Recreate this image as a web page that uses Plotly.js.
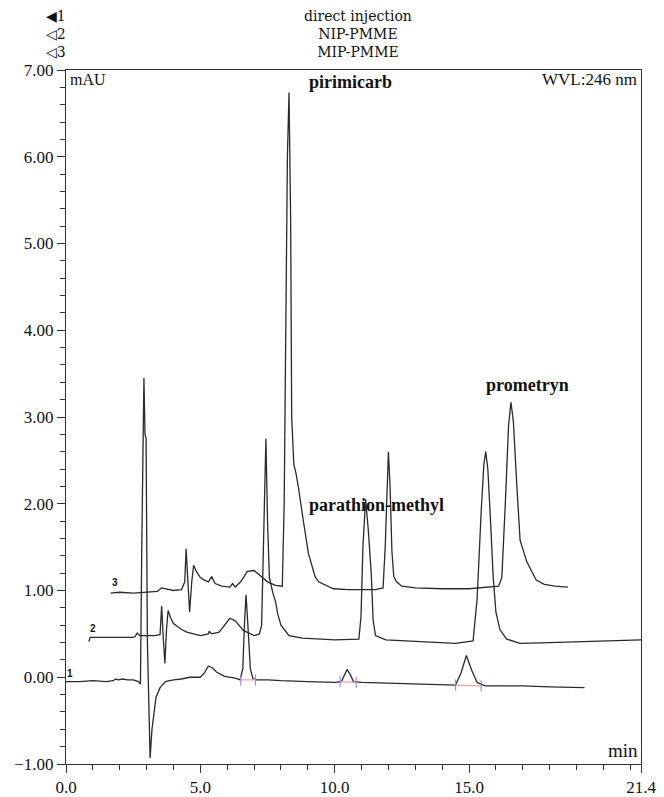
<!DOCTYPE html>
<html>
<head>
<meta charset="utf-8">
<script src="https://cdn.plot.ly/plotly-3.0.1.min.js"></script>
<style>html,body{margin:0;padding:0;background:#fff;}#chart{width:664px;height:797px;}</style>
</head>
<body>
<div id="chart"></div>
<script>
// Retention time (min) and absorbance (mAU)
const t1 = [0.0,0.5,1.0,1.5,1.75,1.85,1.95,2.1,2.3,2.5,2.7,2.77,2.82,2.90,2.94,2.98,3.03,3.08,3.13,3.20,3.35,3.5,3.7,4.0,4.3,4.6,5.0,5.15,5.3,5.45,5.6,5.9,6.3,6.48,6.58,6.64,6.70,6.77,6.86,6.96,7.1,7.5,8.0,9.0,10.0,10.25,10.35,10.46,10.58,10.7,11.0,12.0,13.0,14.0,14.5,14.7,14.9,15.1,15.3,15.6,16.0,17.0,18.0,19.3];
const v1 = [-0.05,-0.05,-0.04,-0.05,-0.04,-0.02,-0.03,-0.02,-0.03,-0.03,-0.05,-0.08,1.5,3.45,2.8,2.75,0.4,-0.4,-0.93,-0.6,-0.23,-0.12,-0.05,-0.03,-0.02,0.0,0.0,0.05,0.13,0.11,0.06,0.01,-0.01,-0.03,0.1,0.6,0.95,0.6,0.1,-0.02,-0.03,-0.03,-0.04,-0.05,-0.06,-0.05,0.02,0.09,0.03,-0.05,-0.06,-0.07,-0.08,-0.09,-0.09,0.05,0.25,0.08,-0.06,-0.1,-0.1,-0.1,-0.11,-0.12];

const t2 = [0.85,0.9,1.5,2.0,2.5,2.57,2.65,2.75,3.0,3.3,3.5,3.56,3.62,3.68,3.74,3.80,3.9,4.0,4.3,4.5,5.0,5.3,5.33,5.42,5.7,5.9,6.1,6.3,6.6,7.0,7.2,7.28,7.36,7.44,7.50,7.57,7.7,7.8,7.88,8.0,8.3,8.8,9.5,10.0,10.9,10.98,11.05,11.15,11.25,11.36,11.43,11.52,11.9,13.0,14.5,15.15,15.3,15.45,15.55,15.62,15.7,15.8,15.9,16.0,16.15,16.4,16.9,18.0,19.0,20.0,21.4];
const v2 = [0.41,0.46,0.46,0.46,0.46,0.47,0.51,0.48,0.48,0.48,0.49,0.82,0.45,0.16,0.55,0.77,0.68,0.62,0.55,0.52,0.48,0.50,0.53,0.50,0.52,0.60,0.68,0.65,0.54,0.48,0.50,0.6,1.8,2.75,1.8,1.15,0.97,0.87,0.73,0.60,0.48,0.45,0.44,0.43,0.44,0.7,1.5,2.05,1.7,1.2,0.66,0.48,0.43,0.41,0.39,0.42,0.9,1.9,2.45,2.60,2.4,1.8,1.15,0.75,0.55,0.44,0.39,0.40,0.41,0.42,0.43];

const t3 = [1.66,2.0,2.5,3.0,3.4,3.55,3.7,4.0,4.3,4.42,4.47,4.53,4.6,4.68,4.75,4.85,5.0,5.15,5.3,5.42,5.55,5.8,6.1,6.2,6.3,6.5,6.75,7.0,7.2,7.5,7.8,8.05,8.12,8.18,8.24,8.30,8.36,8.40,8.48,8.56,8.65,8.83,9.02,9.27,9.4,9.95,10.5,11.5,11.8,11.88,11.95,12.0,12.06,12.13,12.2,12.3,12.5,13.0,14.0,15.0,16.1,16.22,16.35,16.47,16.56,16.65,16.78,16.9,17.15,17.5,17.8,18.2,18.68];
const v3 = [0.97,0.98,0.97,0.98,0.99,1.03,1.02,1.00,1.01,1.1,1.48,1.1,0.75,1.1,1.29,1.22,1.15,1.12,1.10,1.16,1.08,1.05,1.04,1.08,1.04,1.10,1.22,1.23,1.18,1.10,1.06,1.05,2.0,4.5,6.0,6.74,5.3,3.0,2.45,2.35,2.19,1.81,1.43,1.16,1.10,1.02,1.01,1.01,1.03,1.5,2.3,2.6,2.2,1.45,1.16,1.10,1.05,1.03,1.02,1.02,1.05,1.15,2.0,2.9,3.17,2.95,2.2,1.58,1.33,1.12,1.07,1.05,1.04];

// Integration baselines under the direct-injection peaks
const intStartT = [6.50, 10.20, 14.50];
const intEndT   = [7.05, 10.80, 15.45];
const intStartV = [-0.03, -0.05, -0.09];
const intEndV   = [-0.03, -0.06, -0.10];

const seriesNames = ["direct injection", "NIP-PMME", "MIP-PMME"];
const seriesMarks = ["\u25C01", "\u25C12", "\u25C13"];
const traceLabelT = [0.15, 1.0, 1.82];
const traceLabelV = [0.04, 0.56, 1.09];
const peakNames = ["pirimicarb", "parathion-methyl", "prometryn"];
const peakLabelT = [8.97, 8.97, 17.16];
const peakLabelV = [6.86, 1.98, 3.37];
const xTickVals = [0, 5, 10, 15, 21.4];
const xTickText = ["0.0", "5.0", "10.0", "15.0", "21.4"];

const lineCol = '#2a2a2a';
const data = [];
[[t1,v1],[t2,v2],[t3,v3]].forEach(function(s, i){
  data.push({x: s[0], y: s[1], type: 'scatter', mode: 'lines', name: seriesNames[i],
    line: {color: lineCol, width: 1.3}, hoverinfo: 'skip'});
});
for (let i = 0; i < intStartT.length; i++) {
  data.push({x: [intStartT[i], intEndT[i]], y: [intStartV[i], intEndV[i]], type: 'scatter', mode: 'lines+markers',
    line: {color: '#f2a0a0', width: 1.2},
    marker: {symbol: 'line-ns', size: 8, line: {color: '#8c8cf0', width: 1.1}},
    hoverinfo: 'skip'});
}

const annotations = [];
const serif = 'Liberation Serif, Times New Roman, serif';
// header legend: one multi-line text for marks and one for names
annotations.push({xref: 'paper', yref: 'paper', x: -0.036, y: 1.0519, xanchor: 'left', yanchor: 'middle', align: 'left',
  text: seriesMarks.join('<br>'), showarrow: false, borderpad: 0,
  font: {family: 'DejaVu Serif, serif', size: 14, color: '#111'}});
annotations.push({xref: 'paper', yref: 'paper', x: 0.508, y: 1.0519, xanchor: 'center', yanchor: 'middle', align: 'center',
  text: seriesNames.join('<br>'), showarrow: false, borderpad: 0,
  font: {family: 'DejaVu Serif, serif', size: 14, color: '#111'}});
for (let i = 0; i < 3; i++) {
  annotations.push({x: traceLabelT[i], y: traceLabelV[i], xanchor: 'center', yanchor: 'middle',
    text: '<b>' + (i + 1) + '</b>', showarrow: false, font: {family: 'Liberation Sans, Arial, sans-serif', size: 10, color: '#111'}});
  annotations.push({x: peakLabelT[i], y: peakLabelV[i], xanchor: i === 2 ? 'center' : 'left', yanchor: 'middle',
    text: '<b>' + peakNames[i] + '</b>', showarrow: false, font: {family: serif, size: 18, color: '#111'}});
}
annotations.push({xref: 'paper', yref: 'paper', x: 0.003, y: 0.986, xanchor: 'left', yanchor: 'middle',
  text: 'mAU', showarrow: false, font: {family: serif, size: 16, color: '#111'}});
annotations.push({xref: 'paper', yref: 'paper', x: 0.996, y: 0.986, xanchor: 'right', yanchor: 'middle',
  text: 'WVL:246 nm', showarrow: false, font: {family: serif, size: 17, color: '#111'}});
annotations.push({xref: 'paper', yref: 'paper', x: 0.998, y: 0.02, xanchor: 'right', yanchor: 'middle',
  text: 'min', showarrow: false, font: {family: serif, size: 19, color: '#111'}});

const layout = {
  width: 664, height: 797,
  margin: {l: 66, r: 23, t: 70, b: 33},
  paper_bgcolor: '#fff', plot_bgcolor: '#fff',
  showlegend: false,
  font: {family: serif, size: 16, color: '#111'},
  xaxis: {
    range: [0, 21.4], tickmode: 'array', tickvals: xTickVals, ticktext: xTickText,
    ticks: 'outside', ticklen: 8, tickwidth: 1, tickcolor: '#333',
    minor: {tickmode: 'linear', tick0: 0, dtick: 1, ticks: 'outside', ticklen: 5, tickcolor: '#333', showgrid: false},
    showline: true, linecolor: '#333', linewidth: 1, mirror: true,
    showgrid: false, zeroline: false,
    tickfont: {family: serif, size: 17, color: '#111'}
  },
  yaxis: {
    range: [-1, 7], tickmode: 'linear', tick0: -1, dtick: 1, tickformat: '.2f',
    ticks: 'outside', ticklen: 8, tickwidth: 1, tickcolor: '#333',
    minor: {tickmode: 'linear', tick0: 0, dtick: 0.2, ticks: 'outside', ticklen: 5, tickcolor: '#333', showgrid: false},
    showline: true, linecolor: '#333', linewidth: 1, mirror: true,
    showgrid: false, zeroline: false,
    tickfont: {family: serif, size: 17, color: '#111'}
  },
  annotations: annotations
};

Plotly.newPlot('chart', data, layout, {displayModeBar: false, staticPlot: true});
</script>
</body>
</html>
